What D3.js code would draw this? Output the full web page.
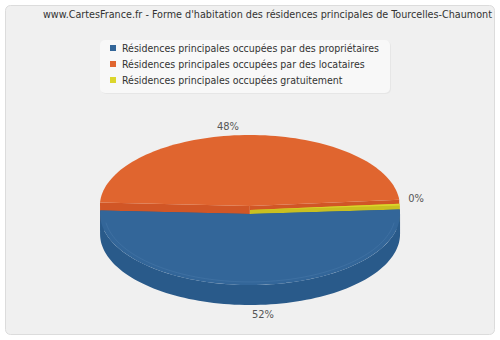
<!DOCTYPE html>
<html>
<head>
<meta charset="utf-8">
<script src="https://cdn.jsdelivr.net/npm/d3@7"></script>
<style>
  body { margin: 0; background: #ffffff; }
  text { font-family: "DejaVu Sans Condensed", "DejaVu Sans", Verdana, sans-serif; }
</style>
</head>
<body>
<div id="vis"></div>
<script>
var width = 500;
var height = 340;

// data
var categories = ['Résidences principales occupées par des propriétaires',
    'Résidences principales occupées par des locataires',
    'Résidences principales occupées gratuitement'];
var shares = [51.8, 47.8, 0.4];
var pctLabels = ['52%', '48%', '0%'];
var topColors = ['#336699', '#e0652f', '#dcd62c'];
var sideColors = ['#295a8a', '#d15626', '#c9c020'];

var cx = 250, cy = 210, rx = 150, ry = 71, depth = 20, explode = 8.5;
var startDeg = -3.6;

var svg = d3.select('#vis')
    .append('svg')
    .attr('width', width)
    .attr('height', height);

svg.append('rect')
    .attr('x', 5.5).attr('y', 5.5)
    .attr('width', 489).attr('height', 329)
    .attr('rx', 5)
    .attr('fill', '#f0f0f0')
    .attr('stroke', '#dcdcdc');

svg.append('text')
    .attr('x', 43).attr('y', 18)
    .attr('font-size', 10.5)
    .attr('fill', '#333')
    .attr('textLength', 449)
    .attr('lengthAdjust', 'spacingAndGlyphs')
    .text("www.CartesFrance.fr - Forme d'habitation des résidences principales de Tourcelles-Chaumont");

// legend
var legend = svg.append('g');
legend.append('rect')
    .attr('x', 101).attr('y', 41).attr('width', 290).attr('height', 53)
    .attr('rx', 5).attr('fill', '#e6e6e6');
legend.append('rect')
    .attr('x', 100).attr('y', 40).attr('width', 290).attr('height', 53)
    .attr('rx', 5).attr('fill', '#f8f8f8');
var items = legend.selectAll('g.item')
    .data(categories)
    .enter().append('g')
    .attr('transform', function (d, i) { return 'translate(0,' + (i * 16) + ')'; });
items.append('rect')
    .attr('x', 110).attr('y', 45)
    .attr('width', 6).attr('height', 6)
    .attr('fill', function (d, i) { return topColors[i]; });
items.append('text')
    .attr('x', 122).attr('y', 52)
    .attr('font-size', 10.5)
    .attr('fill', '#333')
    .text(function (d) { return d; });

// pie angles, degrees, clockwise on screen
var total = d3.sum(shares);
var angle = d3.scaleLinear().domain([0, total]).range([0, 360]);
var slices = [];
var acc = 0;
shares.forEach(function (v, i) {
    var a0 = startDeg + angle(acc);
    acc += v;
    var a1 = startDeg + angle(acc);
    var mid = (a0 + a1) / 2 * Math.PI / 180;
    // tiny slices are not pulled out
    var e = v < 1 ? 0 : explode;
    slices.push({
        i: i, a0: a0, a1: a1,
        ox: cx + e * Math.cos(mid),
        oy: cy + e * Math.sin(mid) * ry / rx
    });
});

function pt(s, deg, dz) {
    var t = deg * Math.PI / 180;
    return [s.ox + rx * Math.cos(t), s.oy + ry * Math.sin(t) + (dz || 0)];
}

function arcPts(s, a0, a1, dz) {
    var n = Math.max(2, Math.ceil(Math.abs(a1 - a0) / 2));
    return d3.range(n + 1).map(function (k) {
        return pt(s, a0 + (a1 - a0) * k / n, dz);
    });
}

var line = d3.line();

function drawSlice(s) {
    var g = svg.append('g');
    var c = [s.ox, s.oy];
    // radial walls
    [s.a0, s.a1].forEach(function (a) {
        var p = pt(s, a, 0);
        g.append('path')
            .attr('d', line([c, p, [p[0], p[1] + depth], [c[0], c[1] + depth]]) + 'Z')
            .attr('fill', sideColors[s.i]);
    });
    // outer side, front half only
    var lo = Math.max(s.a0, 0), hi = Math.min(s.a1, 180);
    if (hi > lo) {
        var top = arcPts(s, lo, hi, 0);
        var bot = arcPts(s, hi, lo, depth);
        g.append('path')
            .attr('d', line(top.concat(bot)) + 'Z')
            .attr('fill', sideColors[s.i]);
    }
    // top face
    g.append('path')
        .attr('d', line([c].concat(arcPts(s, s.a0, s.a1, 0))) + 'Z')
        .attr('fill', topColors[s.i]);
}

// back to front: locataires, gratuit, propriétaires
drawSlice(slices[1]);
drawSlice(slices[2]);
drawSlice(slices[0]);

// subtle highlight rim on the blue top face
var b = slices[0];
svg.append('path')
    .attr('d', line(arcPts({ ox: b.ox, oy: b.oy - 1 }, 8, 172, 0).map(function (p) {
        return [b.ox + (p[0] - b.ox) * 0.97, b.oy + (p[1] - b.oy) * 0.97];
    })))
    .attr('fill', 'none')
    .attr('stroke', '#4a7aab')
    .attr('stroke-width', 0.8)
    .attr('opacity', 0.6);

// percentage labels
var labelPos = [[263, 318], [228, 130], [416, 202]];
svg.selectAll('text.pct')
    .data(pctLabels)
    .enter().append('text')
    .attr('class', 'pct')
    .attr('x', function (d, i) { return labelPos[i][0]; })
    .attr('y', function (d, i) { return labelPos[i][1]; })
    .attr('text-anchor', 'middle')
    .attr('font-size', 11)
    .attr('fill', '#555')
    .text(function (d) { return d; });
</script>
</body>
</html>
